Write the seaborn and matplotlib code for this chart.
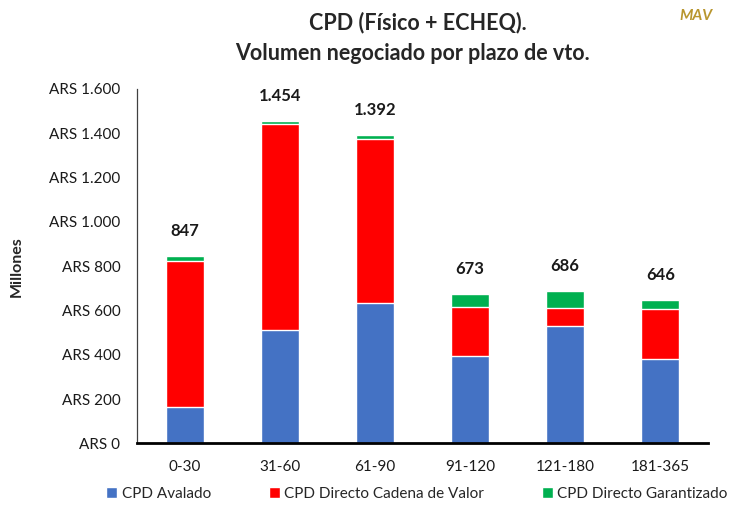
import pandas as pd
import matplotlib
matplotlib.use("Agg")
import matplotlib.pyplot as plt
import seaborn as sns

# Data (millones de ARS)
plazos = ["0-30", "31-60", "61-90", "91-120", "121-180", "181-365"]
avalado = [163, 511, 634, 396, 529, 381]
cadena_valor = [662, 932, 740, 220, 82, 226]
garantizado = [22, 11, 18, 57, 75, 39]
totales = [847, 1454, 1392, 673, 686, 646]

series_names = ["CPD Avalado", "CPD Directo Cadena de Valor", "CPD Directo Garantizado"]
colors = ["#4472C4", "#FF0000", "#00B050"]

sns.set_theme(style="white")
plt.rcParams["font.family"] = ["Lato", "DejaVu Sans"]

df = pd.DataFrame({
    "plazo": plazos,
    "avalado": avalado,
    "cadena": cadena_valor,
    "garantizado": garantizado,
})
# cumulative heights for stacking (draw tallest first)
df["top_cadena"] = df["avalado"] + df["cadena"]
df["top_total"] = df["top_cadena"] + df["garantizado"]

fig = plt.figure(figsize=(7.29, 5.08), dpi=100)
ax = fig.add_axes([0.188, 0.127, 0.783, 0.698])

sns.barplot(data=df, x="plazo", y="top_total", color=colors[2], width=0.4,
            saturation=1, ax=ax, label=series_names[2])
sns.barplot(data=df, x="plazo", y="top_cadena", color=colors[1], width=0.4,
            saturation=1, ax=ax, label=series_names[1])
sns.barplot(data=df, x="plazo", y="avalado", color=colors[0], width=0.4,
            saturation=1, ax=ax, label=series_names[0])

# total labels above bars
for i, tot in enumerate(totales):
    ax.annotate(f"{tot:,}".replace(",", "."), xy=(i, df["top_total"][i]),
                xytext=(0, 18), textcoords="offset points",
                ha="center", va="center", fontsize=12, fontweight="bold",
                color="#1a1a1a")

ax.set_ylim(0, 1600)
ax.set_xlim(-0.5, len(plazos) - 0.5)
yticks = list(range(0, 1601, 200))
ax.set_yticks(yticks)
ax.set_yticklabels([f"ARS {v:,}".replace(",", ".") for v in yticks])
ax.tick_params(axis="both", length=0, labelsize=11, colors="#1a1a1a")
ax.tick_params(axis="y", pad=12)
ax.tick_params(axis="x", pad=12)
ax.set_xlabel("")
ax.set_ylabel("Millones", fontsize=11.5, fontweight="bold", labelpad=18)

sns.despine(ax=ax, top=True, right=True)
ax.spines["left"].set_color("#404040")
ax.spines["left"].set_linewidth(0.9)
ax.spines["bottom"].set_color("black")
ax.spines["bottom"].set_linewidth(2)

fig.text(0.573, 0.955, "CPD (Físico + ECHEQ).", ha="center", va="center",
         fontsize=15.5, fontweight="bold")
fig.text(0.566, 0.895, "Volumen negociado por plazo de vto.", ha="center",
         va="center", fontsize=15.5, fontweight="bold")

# logo placeholder
fig.text(0.955, 0.968, "MAV", ha="center", va="center", fontsize=11,
         fontweight="bold", fontstyle="italic", color="#B8962E")

handles, labels = ax.get_legend_handles_labels()
order = [labels.index(n) for n in series_names]
if ax.get_legend() is not None:
    ax.get_legend().remove()
fig.legend([handles[k] for k in order], [labels[k] for k in order],
           loc="center", bbox_to_anchor=(0.572, 0.028), ncol=3, frameon=False,
           fontsize=11, handlelength=0.7, handleheight=0.7, handletextpad=0.3,
           columnspacing=3.8)

fig.savefig("out.png", dpi=100)
